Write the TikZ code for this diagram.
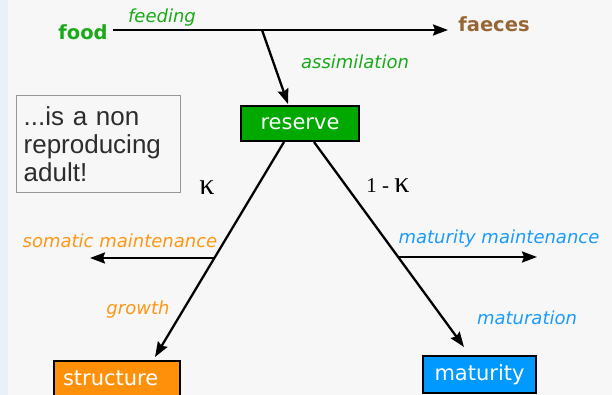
\documentclass[tikz,border=0pt]{standalone}
\usepackage{fontspec}
\setmainfont{DejaVu Sans}
\newfontfamily\notefont{Liberation Sans}
\newfontfamily\kapfont{Liberation Serif}
\usetikzlibrary{arrows.meta,calc}
\definecolor{bg}{RGB}{247,247,247}
\definecolor{band}{RGB}{233,240,248}
\definecolor{fgreen}{RGB}{25,170,25}
\definecolor{boxgreen}{RGB}{0,168,0}
\definecolor{brown}{RGB}{152,102,52}
\definecolor{orangeT}{RGB}{255,150,20}
\definecolor{boxorange}{RGB}{255,145,10}
\definecolor{blueT}{RGB}{25,155,255}
\definecolor{boxblue}{RGB}{0,153,255}
\definecolor{notegray}{RGB}{150,150,150}
\definecolor{notetext}{RGB}{45,45,45}
\tikzset{
  arr/.style={line width=2.3pt, draw=black, -{Stealth[length=15pt,width=11pt,inset=2pt]}},
  endword/.style={font=\fontsize{19.5}{20}\selectfont\bfseries},
  flowlabel/.style={font=\fontsize{18}{20}\selectfont\itshape},
  statebox/.style={draw=black, line width=2.4pt, text=white, font=\fontsize{21}{22}\selectfont, minimum height=35pt},
  kap/.style={font=\kapfont\fontsize{21}{22}\selectfont}
}
\begin{document}
\begin{tikzpicture}[x=1pt,y=-1pt]
\useasboundingbox (0,0) rectangle (612,395);
\fill[bg] (0,0) rectangle (612,395);
\fill[band] (0,0) rectangle (8,395);

% end words
\node[endword, text=fgreen] (food) at (83,32) {food};
\node[endword, text=brown] (faeces) at (494,24) {faeces};

% note box
\node[draw=notegray, line width=1.3pt, anchor=north west, minimum width=164pt, minimum height=97pt,
      text width=150pt, inner xsep=7pt, align=left, text=notetext,
      font=\notefont\fontsize{26}{28}\selectfont] (note) at (16,95)
      {...is a non\\reproducing\\adult!};

% state boxes
\node[statebox, fill=boxgreen, minimum width=118pt] (reserve) at (300,123.5) {reserve};
\node[statebox, fill=boxorange, text width=108pt, inner xsep=9pt, align=left] (structure) at (117,378.5) {structure};
\node[statebox, fill=boxblue, minimum width=113pt, minimum height=37pt] (maturity) at (479.5,374.5) {maturity};

% connector end points
\coordinate (f1) at (113,30);
\coordinate (f2) at (448,30);
\coordinate (a1) at (262,30);
\coordinate (a2) at (288,104);
\coordinate (l1) at (284,142);
\coordinate (l2) at (155,357);
\coordinate (r1) at (314,142);
\coordinate (r2) at (464,347);
\coordinate (s1) at (214,258);
\coordinate (s2) at (90,258);
\coordinate (m1) at (398,257);
\coordinate (m2) at (537,257);

% connectors
\draw[arr] (f1) -- (f2);
\draw[arr] (a1) -- (a2);
\draw[arr] (l1) -- (l2);
\draw[arr] (r1) -- (r2);
\draw[arr] (s1) -- (s2);
\draw[arr] (m1) -- (m2);

% labels
\node[flowlabel, text=fgreen] (lfeed) at (162,18) {feeding};
\node[flowlabel, text=fgreen] (lassim) at (355,62) {assimilation};
\node[flowlabel, text=orangeT] (lsom) at (120,241) {somatic maintenance};
\node[flowlabel, text=orangeT] (lgrow) at (138,310) {growth};
\node[flowlabel, text=blueT] (lmatm) at (499,239) {maturity maintenance};
\node[flowlabel, text=blueT] (lmatu) at (527,318) {maturation};
\node[kap] (k1) at (207,188) {{\fontsize{30}{30}\selectfont κ}};
\node[kap] (k2) at (388,186) {1 - {\fontsize{30}{30}\selectfont κ}};
\end{tikzpicture}
\end{document}
